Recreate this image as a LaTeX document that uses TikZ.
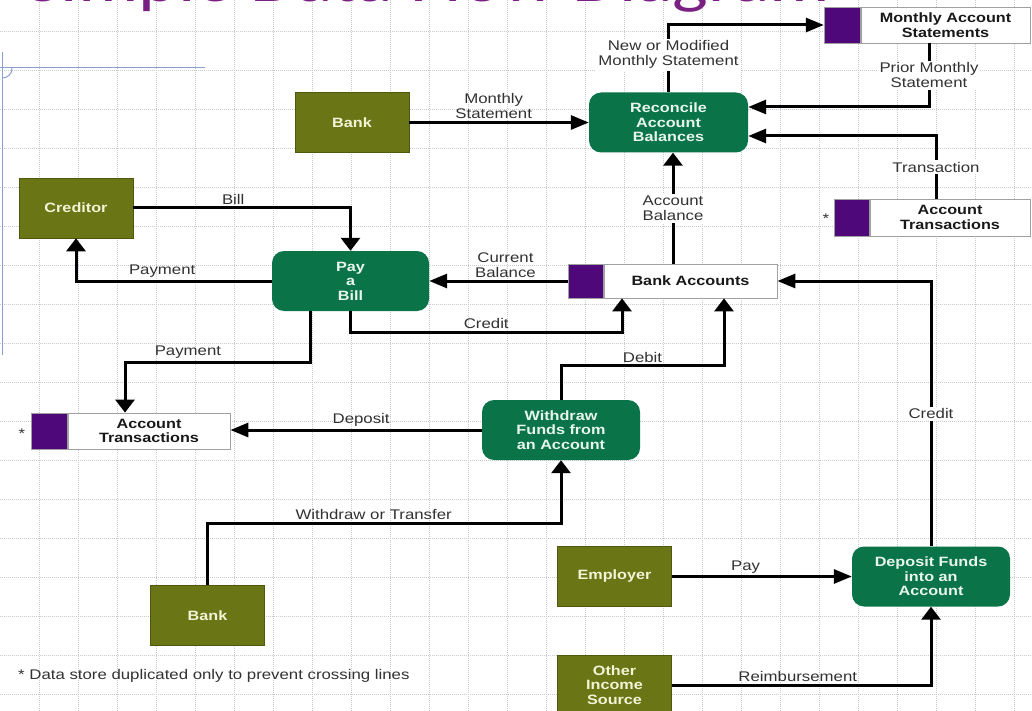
\documentclass[tikz,border=0pt]{standalone}
\usepackage{fontspec}
\setmainfont{Liberation Sans}[FakeStretch=1.2]
\newfontfamily\headingfont{Carlito}[FakeStretch=1.2]
\usetikzlibrary{arrows.meta}

\definecolor{entityolive}{RGB}{106,117,22}
\definecolor{entityedge}{RGB}{80,88,16}
\definecolor{entitytext}{RGB}{242,244,214}
\definecolor{procgreen}{RGB}{10,116,72}
\definecolor{proctext}{RGB}{232,246,236}
\definecolor{storepurple}{RGB}{78,8,122}
\definecolor{storeedge}{RGB}{160,160,160}
\definecolor{storetext}{RGB}{25,25,25}
\definecolor{headingpurple}{RGB}{122,32,130}
\definecolor{gridgray}{RGB}{200,202,210}
\definecolor{labelgray}{RGB}{50,50,50}
\definecolor{guideblue}{RGB}{140,160,205}

\begin{document}
\begin{tikzpicture}[x=1pt,y=-1pt,
  gridline/.style={gridgray, line width=0.5pt, dash pattern=on 1pt off 1pt},
  entity/.style={draw=entityedge, line width=0.6pt, fill=entityolive,
    minimum width=114pt, minimum height=60pt, inner sep=0pt,
    text=entitytext, align=center, font=\bfseries\fontsize{13.5}{14.5}\selectfont},
  process/.style={fill=procgreen, rounded corners=12pt,
    minimum width=158pt, minimum height=60pt, inner sep=0pt,
    text=proctext, align=center, font=\bfseries\fontsize{13.5}{14.5}\selectfont},
  storebox/.style={draw=storeedge, line width=0.8pt, fill=white,
    minimum height=36pt, inner sep=0pt,
    text=storetext, align=center, font=\bfseries\fontsize{13.5}{14.5}\selectfont},
  storekey/.style={draw=storeedge, line width=0.8pt, fill=storepurple,
    minimum width=36pt, minimum height=36pt, inner sep=0pt},
  lbl/.style={text=labelgray, align=center, inner sep=1pt,
    font=\fontsize{14}{15}\selectfont},
  lblcut/.style={lbl, fill=white, inner sep=2pt},
  note/.style={text=labelgray, inner sep=0pt, font=\fontsize{14}{15}\selectfont},
  hflow/.style={line width=3pt, -{Triangle[length=18pt,width=14pt]}},
  vflow/.style={line width=3pt, -{Triangle[length=13pt,width=19pt]}}
]
\useasboundingbox (0,0) rectangle (1032,711);
\clip (0,0) rectangle (1032,711);
\fill[white] (0,0) rectangle (1032,711);

% background grid
\foreach \gx in {39,78,...,1014} \draw[gridline] (\gx,0) -- (\gx,711);
\foreach \gy in {31,70,...,694} \draw[gridline] (0,\gy) -- (1032,\gy);

% heading, running off the top edge
\node[anchor=base west, inner sep=0pt, text=headingpurple,
  font=\headingfont\fontsize{63}{68}\selectfont] (heading) at (26,1.5) {Simple Data Flow Diagram};

% guide lines at the left
\draw[guideblue, line width=1pt] (0,68) -- (205,68);
\draw[guideblue, line width=1pt] (2,52) -- (2,355);
\draw[guideblue, line width=1pt] (12,68) .. controls (12,74) and (8,78) .. (2,78);

% external entities
\node[entity] (bank1) at (352,122.5) {Bank};
\node[entity] (creditor) at (76,208) {Creditor};
\node[entity] (bank2) at (207.5,615.5) {Bank};
\node[entity] (employer) at (614.5,576.5) {Employer};
\node[entity] (other) at (614.5,685) {Other\\Income\\Source};

% processes
\node[process, minimum width=159pt] (reconcile) at (668.5,122.5) {Reconcile\\Account\\Balances};
\node[process, minimum width=157pt] (paybill) at (350.5,281) {Pay\\a\\Bill};
\node[process] (withdraw) at (561,430) {Withdraw\\Funds from\\an Account};
\node[process] (deposit) at (931,576.5) {Deposit Funds\\into an\\Account};

% data stores
\node[storebox, minimum width=169pt] (mas) at (945.5,25) {Monthly Account\\Statements};
\node[storekey, anchor=east] (maskey) at (mas.west) {};
\node[storebox, minimum width=160pt, minimum height=37pt] (atr) at (950,217.5) {Account\\Transactions};
\node[storekey, anchor=east, minimum width=35pt, minimum height=37pt] (atrkey) at (atr.west) {};
\node[storebox, minimum width=173pt, minimum height=34pt] (ba) at (690.5,281) {Bank Accounts};
\node[storekey, anchor=east, minimum width=35pt, minimum height=34pt] (bakey) at (ba.west) {};
\node[storebox, minimum width=162pt] (atl) at (149,431) {Account\\Transactions};
\node[storekey, anchor=east] (atlkey) at (atl.west) {};

% duplicate markers and footnote
\node[note] (star1) at (826,219) {*};
\node[note] (star2) at (22,434) {*};
\node[note, anchor=west] (footnote) at (18,676) {* Data store duplicated only to prevent crossing lines};

% data flows
\draw[hflow] (bank1.east) -- node[lbl, above=1pt, pos=0.47] {Monthly\\Statement} (bank1.east -| reconcile.west);
\draw[hflow] (reconcile.north) |- node[lblcut, pos=0.28] {New or Modified\\Monthly Statement} (maskey.west);
\draw[hflow] ([xshift=-16.5pt]mas.south) |- node[lblcut, pos=0.25] {Prior Monthly\\Statement} ([yshift=15.5pt]reconcile.east);
\draw[hflow] ([xshift=-14pt]atr.north) |- node[lblcut, pos=0.25] {Transaction} ([yshift=-13.5pt]reconcile.east);
\draw[vflow] ([xshift=-17.5pt]ba.north) -- node[lblcut] {Account\\Balance} ([xshift=-17.5pt]ba.north |- reconcile.south);
\draw[vflow] (creditor.east) -| node[lbl, above=1pt, pos=0.23] {Bill} (paybill.north);
\draw[vflow] (paybill.west) -| node[lbl, above=1pt, pos=0.28] {Payment} (creditor.south);
\draw[hflow] (bakey.west) -- node[lbl, above=1pt, pos=0.45] {Current\\Balance} (paybill.east);
\draw[vflow] (paybill.south) -- ++(0,21) -| node[lbl, above=1pt, pos=0.25] {Credit} ([xshift=-68.5pt]ba.south);
\draw[vflow] ([xshift=-40.5pt]paybill.south) -- ++(0,51) -| node[lbl, above=1pt, pos=0.33] {Payment} ([xshift=-24pt]atl.north);
\draw[vflow] (withdraw.north) -- ++(0,-34) -| node[lbl, above=1pt, pos=0.25] {Debit} ([xshift=33.5pt]ba.south);
\draw[hflow] (withdraw.west) -- node[lbl, above=1pt, pos=0.48] {Deposit} (withdraw.west -| atl.east);
\draw[vflow] (bank2.north) -- ++(0,-62) -| node[lbl, above=1pt, pos=0.235] {Withdraw or Transfer} (withdraw.south);
\draw[hflow] (employer.east) -- node[lbl, above=1pt, pos=0.41] {Pay} (deposit.west);
\draw[vflow] (other.east) -| node[lbl, above=1pt, pos=0.243] {Reimbursement} (deposit.south);
\draw[hflow] (deposit.north) |- node[lblcut, pos=0.25] {Credit} (ba.east);
\end{tikzpicture}
\end{document}
